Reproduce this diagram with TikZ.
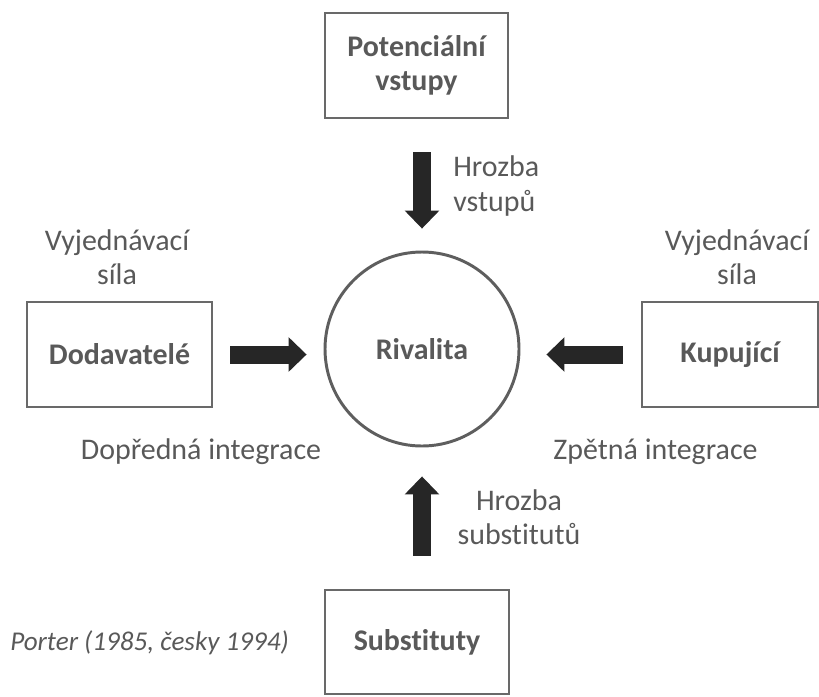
\documentclass[tikz,border=0pt]{standalone}
\usepackage{fontspec}
\setmainfont{Carlito}[Ligatures={NoCommon}]
\usepackage{tikz}
\usetikzlibrary{shapes,arrows.meta,positioning,calc}
\usepackage{xcolor}
\definecolor{labelgrey}{RGB}{89,89,89}
\definecolor{framegrey}{RGB}{105,105,105}
\definecolor{arrowblack}{RGB}{38,38,38}
\tikzset{
    forcebox/.style={
        rectangle,
        draw=framegrey,
        line width=2.1pt,
        minimum height=2.625cm,
        text=labelgrey,
        align=center,
        font={\fontsize{21.3}{24.2}\selectfont\bfseries}
    },
    rivalnode/.style={
        circle,
        draw=framegrey!90!black,
        line width=2.1pt,
        minimum size=4.85cm,
        text=labelgrey,
        font={\fontsize{21.3}{24.2}\selectfont\bfseries}
    },
    forcelabel/.style={
        text=labelgrey,
        inner sep=0pt,
        align=center,
        font={\fontsize{21.3}{24.2}\selectfont}
    },
    forcearrow/.style={
        arrowblack,
        line width=0.45cm,
        -{Triangle[width=0.87cm,length=0.45cm,line width=0pt]}
    }
}

\begin{document}
\begin{tikzpicture}
    \useasboundingbox (0,0) rectangle (20.475,-17.4);

    % Five forces
    \node[rivalnode] (riv) at (10.55,-8.725) {Rivalita};
    \node[forcebox, minimum width=4.575cm] (pot) at (10.4125,-1.6375) {Potenciální\\vstupy};
    \node[forcebox, minimum width=4.625cm] (dod) at (2.9875,-8.8625) {Dodavatelé};
    \node[forcebox, minimum width=4.4cm] (kup) at (18.25,-8.8625) {Kupující};
    \node[forcebox, minimum width=4.6cm, minimum height=2.6cm] (sub) at (10.425,-16.05) {Substituty};

    % Arrows towards rivalry
    \draw[forcearrow, shorten <=0.425cm, shorten >=0.425cm] (dod.east) -- (dod.east -| riv.west);
    \draw[forcearrow, shorten <=0.45cm, shorten >=0.65cm] (kup.west) -- (kup.west -| riv.east);
    \draw[forcearrow, shorten <=0.825cm, shorten >=0.55cm] (pot.south -| riv.north) -- (riv.north);
    \draw[forcearrow, shorten <=0.825cm, shorten >=0.725cm] (sub.north -| riv.south) -- (riv.south);

    % Labels
    \node[forcelabel, anchor=west, align=left] (hrv) at (11.325,-4.65) {Hrozba\\vstupů};
    \node[forcelabel] (hrs) at (12.975,-12.93) {Hrozba\\substitutů};
    \node[forcelabel] (vsl) at (2.925,-6.43) {Vyjednávací\\síla};
    \node[forcelabel] (vsr) at (18.425,-6.43) {Vyjednávací\\síla};
    \node[forcelabel, anchor=base] (dpi) at (5.025,-11.475) {Dopředná integrace};
    \node[forcelabel, anchor=base] (zpi) at (16.3875,-11.475) {Zpětná integrace};
    \node[forcelabel, anchor=base west, font={\fontsize{19.3}{22}\selectfont\itshape}] (src) at (0.25,-16.25) {Porter (1985, česky 1994)};
\end{tikzpicture}
\end{document}
